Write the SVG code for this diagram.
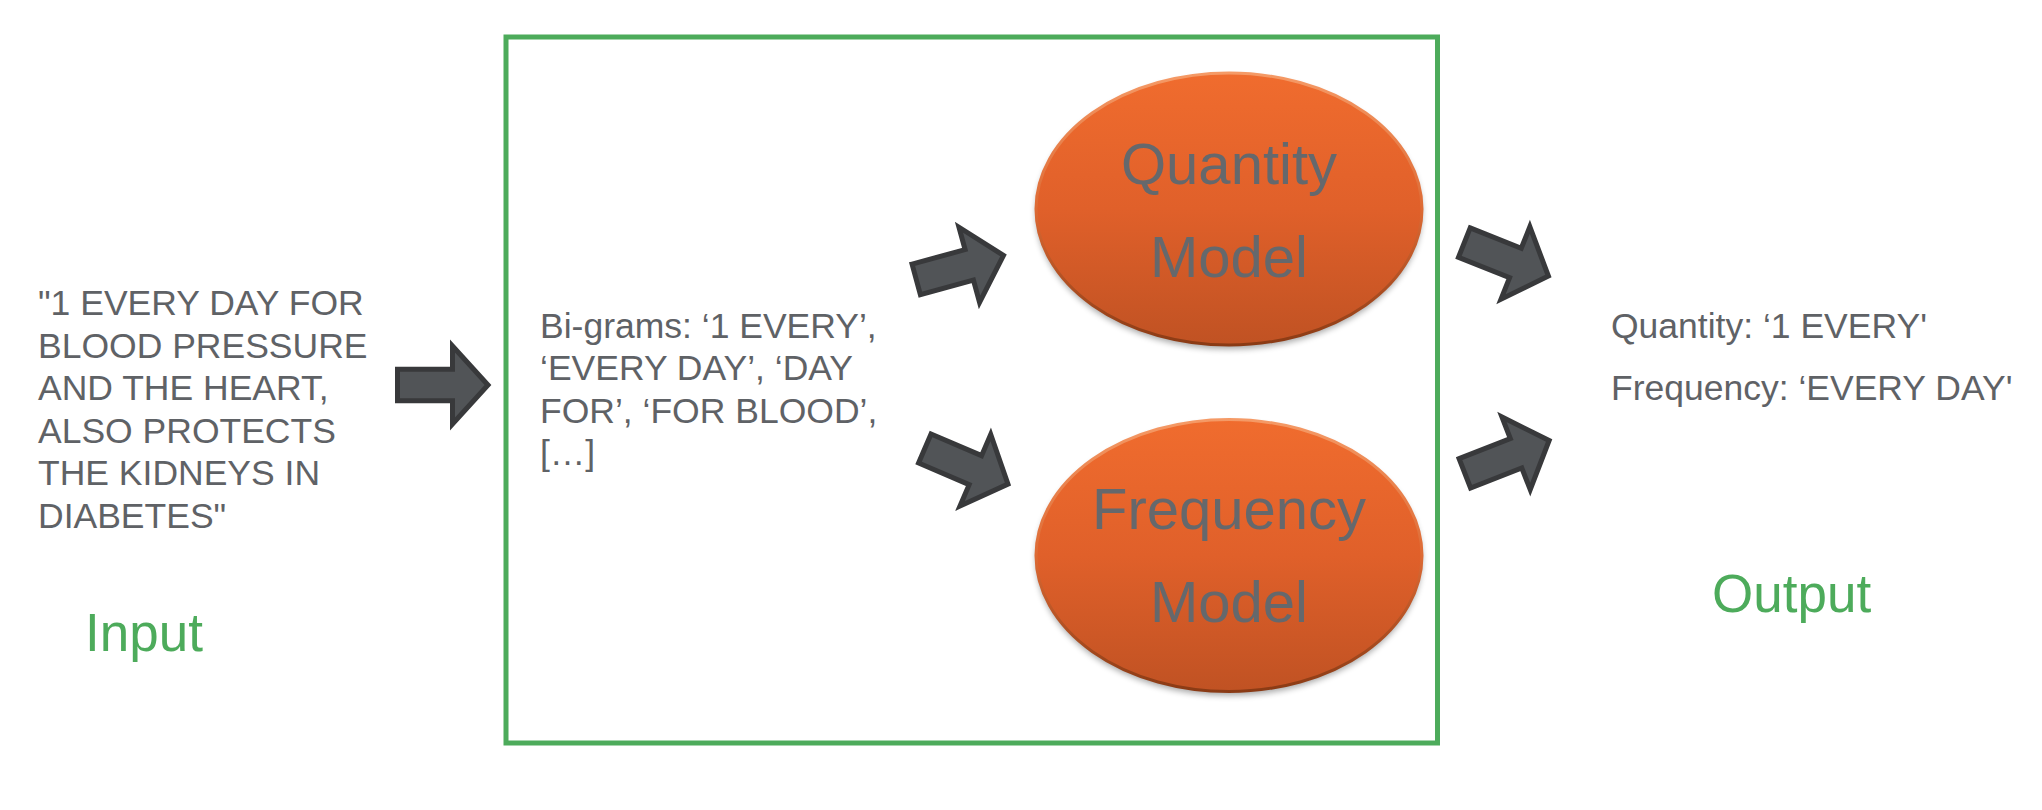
<svg xmlns="http://www.w3.org/2000/svg" xmlns:xlink="http://www.w3.org/1999/xlink" width="2042" height="810" viewBox="0 0 2042 810">
<style>
.t{font-family:"Liberation Sans",Arial,sans-serif;fill:#5f6266;font-size:35.5px}
.lbl{font-family:"Liberation Sans",Arial,sans-serif;fill:#4dab5b;font-size:53px}
.et{font-family:"Liberation Sans",Arial,sans-serif;fill:#65686c;font-size:58px;text-anchor:middle}
.arr{fill:#515457;stroke:#38393b;stroke-width:5;stroke-linejoin:miter}
.ell{fill:url(#og);stroke:url(#eg);stroke-width:3}
</style>
<defs>
<linearGradient id="og" x1="0" y1="0" x2="0" y2="1">
<stop offset="0" stop-color="#f06c2e"/>
<stop offset="0.5" stop-color="#e0602a"/>
<stop offset="1" stop-color="#c05223"/>
</linearGradient>
<linearGradient id="eg" x1="0" y1="0" x2="0" y2="1">
<stop offset="0" stop-color="#f59a66"/>
<stop offset="0.5" stop-color="#dd6a34"/>
<stop offset="1" stop-color="#8a3a14"/>
</linearGradient>
<filter id="sh" x="-10%" y="-10%" width="120%" height="130%">
<feGaussianBlur stdDeviation="3"/>
</filter>
<path id="arrow" class="arr" d="M2.5,-15.8 H57.5 V-39 L93,0 L57.5,39 V15.8 H2.5 Z"/>
</defs>
<rect width="2042" height="810" fill="#ffffff"/>
<g id="box">
<rect x="506" y="37" width="931.5" height="706" fill="none" stroke="#4dab5b" stroke-width="5"/>
</g>
<g id="input">
<text class="t" x="38" y="315">"1 EVERY DAY FOR</text>
<text class="t" x="38" y="357.6">BLOOD PRESSURE</text>
<text class="t" x="38" y="400.2">AND THE HEART,</text>
<text class="t" x="38" y="442.8">ALSO PROTECTS</text>
<text class="t" x="38" y="485.4">THE KIDNEYS IN</text>
<text class="t" x="38" y="528">DIABETES"</text>
<text class="lbl" x="85" y="651">Input</text>
</g>
<g id="bigrams">
<text class="t" x="540" y="337.5">Bi-grams: ‘1 EVERY’,</text>
<text class="t" x="540" y="380.1">‘EVERY DAY’, ‘DAY</text>
<text class="t" x="540" y="422.7">FOR’, ‘FOR BLOOD’,</text>
<text class="t" x="540" y="465.3">[…]</text>
</g>
<g id="quantity-model">
<ellipse cx="1229" cy="213" rx="193" ry="136" fill="#000" opacity="0.35" filter="url(#sh)"/>
<ellipse class="ell" cx="1229" cy="209" rx="193" ry="136"/>
<text class="et" x="1229" y="184">Quantity</text>
<text class="et" x="1229" y="277">Model</text>
</g>
<g id="frequency-model">
<ellipse cx="1229" cy="559.5" rx="193" ry="136" fill="#000" opacity="0.35" filter="url(#sh)"/>
<ellipse class="ell" cx="1229" cy="555.5" rx="193" ry="136"/>
<text class="et" x="1229" y="529">Frequency</text>
<text class="et" x="1229" y="622">Model</text>
</g>
<g id="output">
<text class="t" x="1611" y="337.5">Quantity: ‘1 EVERY'</text>
<text class="t" x="1611" y="399.5">Frequency: ‘EVERY DAY'</text>
<text class="lbl" x="1712" y="612">Output</text>
</g>
<g id="connectors">
<use xlink:href="#arrow" transform="translate(395,385)"/>
<use xlink:href="#arrow" transform="translate(913.8,280) rotate(-15.3)"/>
<use xlink:href="#arrow" transform="translate(922.5,447.5) rotate(23.2)"/>
<use xlink:href="#arrow" transform="translate(1462,241.7) rotate(21.7)"/>
<use xlink:href="#arrow" transform="translate(1462.5,474.2) rotate(-21.3)"/>
</g>
</svg>
